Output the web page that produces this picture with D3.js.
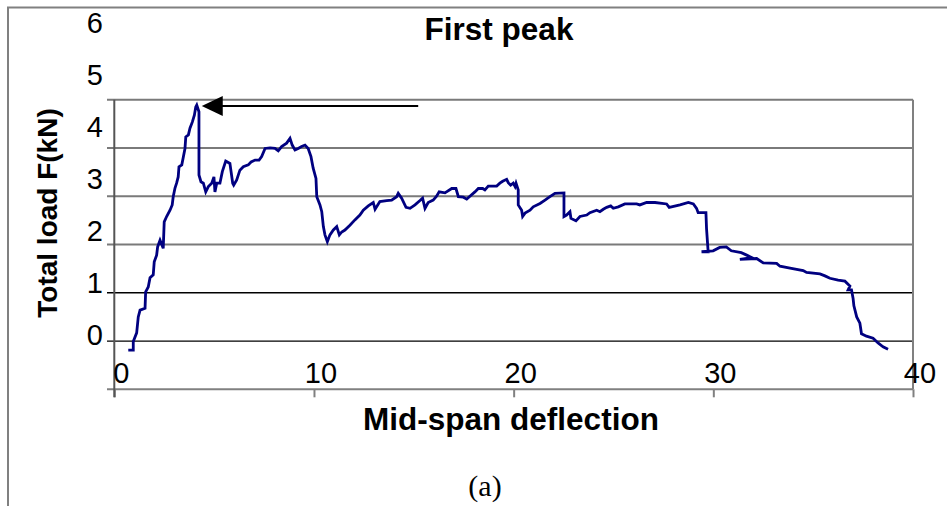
<!DOCTYPE html>
<html>
<head>
<meta charset="utf-8">
<script src="https://cdn.jsdelivr.net/npm/d3@7/dist/d3.min.js"></script>
<style>
  html, body { margin: 0; padding: 0; background: #fff; }
  svg { display: block; }
</style>
</head>
<body>
<svg id="chart" width="947" height="506"></svg>
<script>
// ---- data ----
const deflection = [0.70,0.95,0.95,1.12,1.20,1.29,1.54,1.57,1.70,1.79,1.95,2.00,2.12,2.17,2.29,2.45,2.50,2.62,2.79,2.90,2.95,3.04,3.12,3.20,3.24,3.38,3.46,3.54,3.58,3.71,3.79,3.91,4.01,4.08,4.13,4.24,4.24,4.34,4.46,4.58,4.71,4.88,4.99,5.04,5.13,5.29,5.41,5.58,5.79,5.93,5.98,6.13,6.29,6.46,6.71,6.85,7.05,7.25,7.38,7.55,7.80,8.05,8.21,8.38,8.63,8.80,8.91,9.05,9.21,9.38,9.55,9.71,9.85,9.96,10.10,10.14,10.30,10.39,10.47,10.55,10.67,10.80,10.97,11.14,11.27,11.39,11.55,11.80,12.05,12.30,12.47,12.72,12.97,13.06,13.30,13.64,13.89,14.14,14.22,14.39,14.61,14.81,15.06,15.31,15.44,15.56,15.72,15.97,16.14,16.27,16.56,16.90,17.11,17.23,17.48,17.65,17.81,18.06,18.23,18.45,18.56,18.73,19.15,19.31,19.45,19.65,19.73,19.85,19.98,20.07,20.12,20.23,20.23,20.40,20.45,20.57,20.82,20.98,21.32,21.57,21.78,22.07,22.52,22.52,22.65,22.82,22.87,23.12,23.32,23.66,23.82,24.16,24.32,24.49,24.66,24.86,24.99,25.24,25.57,26.16,26.32,26.66,27.08,27.66,27.79,28.33,28.75,29.00,29.16,29.24,29.63,29.66,29.74,29.41,29.99,30.32,30.65,30.90,31.40,31.67,31.92,31.33,32.17,32.50,33.17,33.34,33.84,34.50,34.67,35.34,35.59,35.84,36.25,36.59,36.84,36.75,36.92,37.00,37.04,37.18,37.34,37.42,37.67,38.00,38.25,38.50,38.75];
const load = [-0.19,-0.19,-0.01,0.17,0.50,0.64,0.68,1.02,1.12,1.31,1.37,1.64,1.78,1.95,2.09,1.92,2.47,2.58,2.71,2.82,2.99,3.17,3.27,3.40,3.61,3.65,3.82,3.99,4.23,4.27,4.41,4.54,4.68,4.85,4.89,4.75,3.44,3.30,3.27,3.09,3.20,3.27,3.40,3.09,3.27,3.27,3.51,3.73,3.68,3.27,3.23,3.34,3.54,3.61,3.65,3.71,3.75,3.75,3.82,3.99,4.00,3.99,3.94,4.03,4.10,4.20,4.06,3.96,3.99,4.03,4.06,3.99,3.82,3.58,3.37,2.99,2.82,2.68,2.37,2.20,2.06,2.20,2.30,2.37,2.20,2.26,2.30,2.40,2.51,2.61,2.71,2.80,2.87,2.73,2.89,2.91,2.92,2.99,3.06,2.96,2.77,2.75,2.82,2.91,2.96,2.75,2.87,2.92,3.00,3.09,3.07,3.16,3.16,2.99,2.98,2.94,3.00,3.09,3.16,3.16,3.13,3.21,3.21,3.27,3.31,3.35,3.28,3.23,3.27,3.20,3.27,3.13,2.82,2.71,2.58,2.65,2.71,2.78,2.85,2.92,2.98,3.06,3.07,2.58,2.61,2.68,2.54,2.49,2.58,2.61,2.66,2.71,2.68,2.73,2.77,2.80,2.75,2.78,2.84,2.84,2.82,2.87,2.87,2.84,2.77,2.82,2.87,2.84,2.75,2.66,2.66,2.33,1.85,1.85,1.87,1.94,1.95,1.87,1.83,1.78,1.73,1.69,1.71,1.62,1.61,1.55,1.51,1.46,1.42,1.39,1.35,1.30,1.26,1.24,1.14,1.06,1.06,0.88,0.73,0.50,0.37,0.15,0.10,0.06,-0.04,-0.12,-0.17];

const xTicks = [0, 10, 20, 30, 40];
const gridValues = [-1, 0, 1, 2, 3, 4, 5];
const yTickLabels = [0, 1, 2, 3, 4, 5, 6];

const arrowFrom = [15.22, 4.87];
const arrowTo = [4.38, 4.87];

const titleText = "First peak";
const xTitle = "Mid-span deflection";
const yTitle = "Total load F(kN)";
const caption = "(a)";

// ---- scales ----
const svg = d3.select("#chart");
const x = d3.scaleLinear().domain([0, 40]).range([114.3, 913]);
const y = d3.scaleLinear().domain([-1, 5]).range([389.3, 99.7]);
// tick labels are drawn on their own (evenly spaced) scale as in the reference
const yLab = d3.scaleLinear().domain([0, 6]).range([345, 33]);

// outer frame (top and left edges)
svg.append("path")
  .attr("d", "M8,506 L8,7.5 L947,7.5")
  .attr("fill", "none").attr("stroke", "#808080").attr("stroke-width", 2);

// gridlines (with left tick stubs)
svg.append("g").selectAll("line").data(gridValues.filter(v => v > -1)).join("line")
  .attr("x1", 107).attr("x2", x(40))
  .attr("y1", d => y(d)).attr("y2", d => y(d))
  .attr("stroke", d => d >= 2 ? "#7a7a7a" : "#000")
  .attr("stroke-width", d => d >= 2 ? 2 : 1.3);

// right border of plot area
svg.append("line")
  .attr("x1", x(40)).attr("x2", x(40)).attr("y1", y(5)).attr("y2", y(-1))
  .attr("stroke", "#808080").attr("stroke-width", 2);

// x axis
const xAxis = d3.axisBottom(x).tickValues(xTicks).tickSize(8).tickFormat("");
const gx = svg.append("g").attr("transform", `translate(0,${y(-1)})`).call(xAxis);
gx.select(".domain").attr("d", `M107,0H${x(40)}`).attr("stroke", "#808080").attr("stroke-width", 2);
gx.selectAll(".tick line").attr("stroke", "#808080").attr("stroke-width", 2);

// y axis line
svg.append("line")
  .attr("x1", x(0)).attr("x2", x(0)).attr("y1", y(5)).attr("y2", y(-1) + 8)
  .attr("stroke", "#555").attr("stroke-width", 2);

// x tick labels (sit above the axis, shifted right)
svg.append("g").selectAll("text").data(xTicks).join("text")
  .attr("x", d => x(d) + 7).attr("y", 383)
  .attr("text-anchor", "middle")
  .attr("font-family", "Liberation Sans, Arial, sans-serif")
  .attr("font-size", 29)
  .text(d => d);

// y tick labels
svg.append("g").selectAll("text").data(yTickLabels).join("text")
  .attr("x", 103).attr("y", d => yLab(d))
  .attr("text-anchor", "end")
  .attr("font-family", "Liberation Sans, Arial, sans-serif")
  .attr("font-size", 29)
  .text(d => d);

// data line
const line = d3.line().x((d, i) => x(deflection[i])).y((d, i) => y(load[i]));
svg.append("path")
  .datum(load)
  .attr("d", line)
  .attr("fill", "none")
  .attr("stroke", "#000080")
  .attr("stroke-width", 2.8)
  .attr("stroke-linejoin", "miter");

// arrow annotation
const ax0 = x(arrowFrom[0]), ay = y(arrowFrom[1]), ax1 = x(arrowTo[0]);
svg.append("line")
  .attr("x1", ax0).attr("x2", ax1 + 18).attr("y1", ay).attr("y2", ay)
  .attr("stroke", "#000").attr("stroke-width", 2);
svg.append("path")
  .attr("d", `M${ax1},${ay} L${ax1 + 21},${ay - 10} L${ax1 + 21},${ay + 10} Z`)
  .attr("fill", "#000");

// titles
svg.append("text")
  .attr("x", 499).attr("y", 40)
  .attr("text-anchor", "middle")
  .attr("font-family", "Liberation Sans, Arial, sans-serif")
  .attr("font-weight", "bold").attr("font-size", 31.5)
  .text(titleText);

svg.append("text")
  .attr("x", 511).attr("y", 430)
  .attr("text-anchor", "middle")
  .attr("font-family", "Liberation Sans, Arial, sans-serif")
  .attr("font-weight", "bold").attr("font-size", 31.5)
  .text(xTitle);

svg.append("text")
  .attr("transform", "translate(57,213) rotate(-90)")
  .attr("text-anchor", "middle")
  .attr("font-family", "Liberation Sans, Arial, sans-serif")
  .attr("font-weight", "bold").attr("font-size", 28)
  .text(yTitle);

svg.append("text")
  .attr("x", 485).attr("y", 496)
  .attr("text-anchor", "middle")
  .attr("font-family", "Liberation Serif, Times New Roman, serif")
  .attr("font-size", 30)
  .text(caption);
</script>
</body>
</html>
